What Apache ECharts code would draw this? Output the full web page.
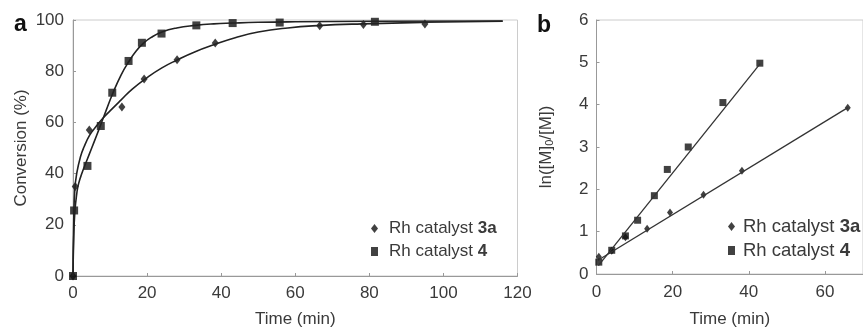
<!DOCTYPE html>
<html>
<head>
<meta charset="utf-8">
<script src="https://cdn.jsdelivr.net/npm/echarts@6/dist/echarts.min.js"></script>
<style>
  html, body { margin: 0; padding: 0; background: #fff; }
  #main { width: 863px; height: 333px; }
</style>
</head>
<body>
<div id="main"></div>
<script>
// panel a: conversion vs time, measured points
var timeA3a = [0, 0.6, 4.4, 13.2, 19.2, 28.1, 38.4, 66.6, 78.4, 95];
var convA3a = [0, 35, 57, 66, 77, 84.5, 91, 97.8, 98.2, 98.4];
var timeA4 = [0, 0.3, 3.9, 7.5, 10.6, 15, 18.6, 23.9, 33.3, 43.1, 55.8, 81.5];
var convA4 = [0, 25.6, 43, 58.6, 71.6, 84, 91.1, 94.7, 97.9, 98.8, 99, 99.3];

// panel a: fitted curves
var fitTime3a = [0, 0.2, 0.5, 1, 2, 3, 4.5, 6, 8, 10, 13, 16, 20, 24, 28, 33, 38, 44, 50, 58, 66, 78, 95, 116];
var fitConv3a = [0, 22, 34, 40, 46.5, 50.5, 55, 58, 61.5, 64.5, 68.8, 73, 77.5, 81.3, 84.3, 87.6, 90.3, 93.2, 95.3, 96.9, 97.8, 98.5, 99.1, 99.5];
var fitTime4 = [0, 0.2, 0.5, 1, 1.5, 2.5, 3.7, 5, 6.4, 7.4, 9, 10.7, 13, 15, 17, 19, 21, 24, 28, 33, 38, 43, 50, 60, 80, 116];
var fitConv4 = [0, 15, 25, 32, 36, 40.5, 45, 49.8, 55, 58.8, 64.9, 71.2, 78.6, 83.6, 87.8, 90.9, 93.1, 95.3, 96.9, 97.9, 98.5, 98.8, 99.1, 99.3, 99.5, 99.6];

// panel b: ln([M]0/[M]) vs time
var timeB3a = [0.6, 4, 7.6, 13.3, 19.3, 28.1, 38.2, 66];
var lnB3a = [0.41, 0.55, 0.87, 1.07, 1.45, 1.87, 2.44, 3.93];
var timeB4 = [0.6, 4, 7.6, 10.8, 15.2, 18.6, 24.1, 33.2, 42.9];
var lnB4 = [0.28, 0.56, 0.9, 1.27, 1.85, 2.47, 3.0, 4.05, 4.98];
var lineTimeB3a = [0.5, 66];
var lineLnB3a = [0.33, 3.93];
var lineTimeB4 = [0.5, 43];
var lineLnB4 = [0.2, 4.97];

var zip = function (xs, ys) {
  return xs.map(function (x, i) { return [x, ys[i]]; });
};

var font = 'Liberation Sans, Arial, sans-serif';
var txt = '#3a3a3a';

var chartDom = document.getElementById('main');
var myChart = echarts.init(chartDom);

var axisCommon = {
  axisLine: { show: true, onZero: false, lineStyle: { color: '#999', width: 1 } },
  axisTick: { show: true, inside: true, length: 3, lineStyle: { color: '#999' } },
  splitLine: { show: false },
  nameMoveOverlap: false,
  nameTextStyle: { color: txt, fontFamily: font, fontSize: 17 }
};

var labelStyle = function (margin) {
  return { color: txt, fontFamily: font, fontSize: 17, margin: margin };
};

var option = {
  backgroundColor: '#fff',
  animation: false,
  title: [
    { text: 'a', left: 9, top: 8, textStyle: { fontFamily: font, fontSize: 23, fontWeight: 'bold', color: '#111' } },
    { text: 'b', left: 532, top: 9, textStyle: { fontFamily: font, fontSize: 23, fontWeight: 'bold', color: '#111' } }
  ],
  grid: [
    { left: 73, top: 20, width: 444.5, height: 258.5, show: true, borderColor: '#ccc', borderWidth: 1 },
    { left: 596.5, top: 20, width: 276.5, height: 259.5, show: true, borderColor: '#ccc', borderWidth: 1 }
  ],
  xAxis: [
    Object.assign({}, axisCommon, {
      gridIndex: 0, type: 'value', min: 0, max: 120, interval: 20,
      name: 'Time (min)', nameLocation: 'middle', nameGap: 35,
      axisLabel: labelStyle(9)
    }),
    Object.assign({}, axisCommon, {
      gridIndex: 1, type: 'value', min: 0, max: 70, interval: 20,
      name: 'Time (min)', nameLocation: 'middle', nameGap: 37,
      axisLabel: Object.assign(labelStyle(10), { showMaxLabel: false })
    })
  ],
  yAxis: [
    Object.assign({}, axisCommon, {
      gridIndex: 0, type: 'value', min: 0, max: 100, interval: 20,
      name: 'Conversion (%)', nameLocation: 'middle', nameGap: 43,
      axisLabel: labelStyle(9)
    }),
    Object.assign({}, axisCommon, {
      gridIndex: 1, type: 'value', min: 0, max: 6, interval: 1,
      name: 'ln([M]{s|0}/[M])', nameLocation: 'middle', nameGap: 41,
      nameTextStyle: {
        color: txt, fontFamily: font, fontSize: 17,
        rich: { s: { fontSize: 11, verticalAlign: 'bottom', color: txt, fontFamily: font, padding: [8, 0, 0, 0] } }
      },
      axisLabel: labelStyle(8)
    })
  ],
  legend: [
    {
      left: 366, top: 215, orient: 'vertical', itemGap: 6,
      itemWidth: 7, itemHeight: 9, selectedMode: false,
      textStyle: { color: txt, fontFamily: font, fontSize: 17, padding: [0, 0, 0, 6],
        rich: { b: { fontWeight: 'bold', color: txt, fontFamily: font, fontSize: 17 } } },
      formatter: function (n) { return n === 'a3a' ? 'Rh catalyst {b|3a}' : 'Rh catalyst {b|4}'; },
      data: [{ name: 'a3a', icon: 'diamond' }, { name: 'a4', icon: 'rect' }]
    },
    {
      left: 723, top: 212, orient: 'vertical', itemGap: 5,
      itemWidth: 7, itemHeight: 9, selectedMode: false,
      textStyle: { color: txt, fontFamily: font, fontSize: 18.5, padding: [0, 0, 0, 3],
        rich: { b: { fontWeight: 'bold', color: txt, fontFamily: font, fontSize: 18.5 } } },
      formatter: function (n) { return n === 'b3a' ? 'Rh catalyst {b|3a}' : 'Rh catalyst {b|4}'; },
      data: [{ name: 'b3a', icon: 'diamond' }, { name: 'b4', icon: 'rect' }]
    }
  ],
  series: [
    {
      type: 'line', xAxisIndex: 0, yAxisIndex: 0, silent: true,
      data: zip(fitTime3a, fitConv3a), smooth: 0.5,
      symbol: 'none', lineStyle: { color: '#222', width: 1.6 }
    },
    {
      type: 'line', xAxisIndex: 0, yAxisIndex: 0, silent: true,
      data: zip(fitTime4, fitConv4), smooth: 0.5,
      symbol: 'none', lineStyle: { color: '#222', width: 1.6 }
    },
    {
      name: 'a3a', type: 'scatter', xAxisIndex: 0, yAxisIndex: 0,
      data: zip(timeA3a, convA3a), symbol: 'diamond', symbolSize: [7, 9],
      itemStyle: { color: '#111' }
    },
    {
      name: 'a4', type: 'scatter', xAxisIndex: 0, yAxisIndex: 0,
      data: zip(timeA4, convA4), symbol: 'rect', symbolSize: 8,
      itemStyle: { color: '#111' }
    },
    {
      type: 'line', xAxisIndex: 1, yAxisIndex: 1, silent: true,
      data: zip(lineTimeB3a, lineLnB3a), symbol: 'none',
      lineStyle: { color: '#333', width: 1.3 }
    },
    {
      type: 'line', xAxisIndex: 1, yAxisIndex: 1, silent: true,
      data: zip(lineTimeB4, lineLnB4), symbol: 'none',
      lineStyle: { color: '#333', width: 1.3 }
    },
    {
      name: 'b3a', type: 'scatter', xAxisIndex: 1, yAxisIndex: 1,
      data: zip(timeB3a, lnB3a), symbol: 'diamond', symbolSize: [6, 8],
      itemStyle: { color: '#111' }
    },
    {
      name: 'b4', type: 'scatter', xAxisIndex: 1, yAxisIndex: 1,
      data: zip(timeB4, lnB4), symbol: 'rect', symbolSize: 7,
      itemStyle: { color: '#111' }
    }
  ]
};

option && myChart.setOption(option);
window.onresize = function () {
  myChart.resize();
};
</script>
</body>
</html>
